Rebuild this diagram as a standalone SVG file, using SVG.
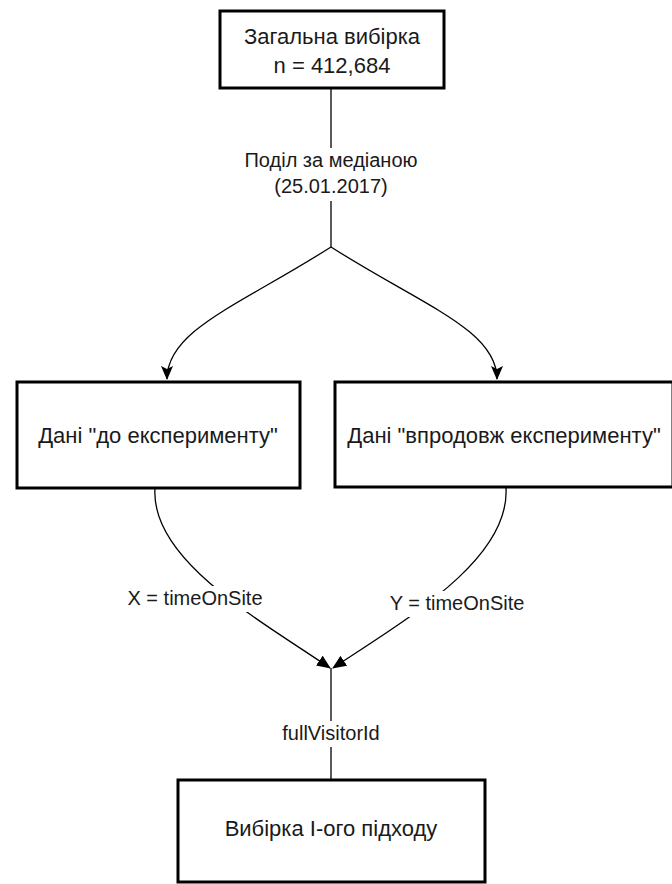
<svg xmlns="http://www.w3.org/2000/svg" width="672" height="884" viewBox="0 0 672 884">
  <style>
    .box { fill: #ffffff; stroke: #000000; stroke-width: 3; }
    .edge { fill: none; stroke: #000000; stroke-width: 1.3; }
    .lbl { font-family: "Liberation Sans", Arial, sans-serif; font-size: 20px; fill: #1a1a1a; text-anchor: middle; }
    .nlbl { font-family: "Liberation Sans", Arial, sans-serif; font-size: 22px; fill: #1a1a1a; text-anchor: middle; }
    .bg { fill: #ffffff; stroke: none; }
  </style>
  <defs>
    <marker id="arr" markerWidth="14" markerHeight="12" refX="13" refY="6" orient="auto" markerUnits="userSpaceOnUse" viewBox="0 0 14 12">
      <path d="M0,0 L14,6 L0,12 L3,6 z" fill="#000000"/>
    </marker>
    <marker id="arrb" markerWidth="14" markerHeight="12" refX="13" refY="6" orient="auto" markerUnits="userSpaceOnUse" viewBox="0 0 14 12">
      <path d="M0,0 L14,6 L0,12 z" fill="#000000"/>
    </marker>
  </defs>
  <rect width="672" height="884" fill="#ffffff"/>

  <g id="connectors">
    <path class="edge" d="M331,89 L331,247"/>
    <path class="edge" d="M331,247 C240,305 167,330 167,379" marker-end="url(#arr)"/>
    <path class="edge" d="M331,247 C422,305 497,330 497,379" marker-end="url(#arr)"/>
    <path class="edge" d="M155,488 C150,560 260,620 330,668" marker-end="url(#arrb)"/>
    <path class="edge" d="M506,488 C510,560 405,620 333,668" marker-end="url(#arrb)"/>
    <path class="edge" d="M331,668 L331,780"/>

    <g id="label-split">
      <rect class="bg" x="230" y="148" width="200" height="53"/>
      <text class="lbl" x="331" y="167">Поділ за медіаною</text>
      <text class="lbl" x="331" y="193">(25.01.2017)</text>
    </g>
    <g id="label-x">
      <rect class="bg" x="125" y="586" width="142" height="26"/>
      <text class="lbl" x="195" y="605">X = timeOnSite</text>
    </g>
    <g id="label-y">
      <rect class="bg" x="388" y="591" width="140" height="26"/>
      <text class="lbl" x="457" y="610">Y = timeOnSite</text>
    </g>
    <g id="label-id">
      <rect class="bg" x="280" y="721" width="104" height="26"/>
      <text class="lbl" x="331" y="740">fullVisitorId</text>
    </g>
  </g>

  <g id="node-total">
    <rect class="box" x="220" y="11" width="224" height="77"/>
    <text class="nlbl" x="332" y="44">Загальна вибірка</text>
    <text class="nlbl" x="332" y="73">n = 412,684</text>
  </g>

  <g id="node-before">
    <rect class="box" x="17" y="382" width="283" height="106"/>
    <text class="nlbl" x="158" y="443">Дані "до експерименту"</text>
  </g>

  <g id="node-during">
    <rect class="box" x="335" y="382" width="338" height="105"/>
    <text class="nlbl" x="504" y="443">Дані "впродовж експерименту"</text>
  </g>

  <g id="node-sample">
    <rect class="box" x="178" y="780" width="307" height="102"/>
    <text class="nlbl" x="331" y="836">Вибірка І-ого підходу</text>
  </g>
</svg>
